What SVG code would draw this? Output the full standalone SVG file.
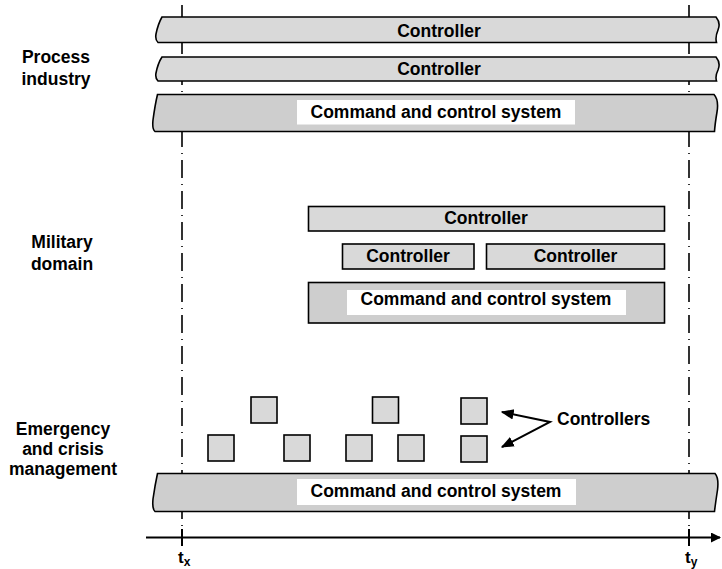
<svg xmlns="http://www.w3.org/2000/svg" width="722" height="569" viewBox="0 0 722 569">
<defs>
<style>
text{font-family:"Liberation Sans",Arial,sans-serif;font-weight:bold;fill:#000}
.lbl{font-size:17.5px;text-anchor:middle}
.bt{font-size:17.5px;text-anchor:middle}
.ctl{fill:#d9d9d9;stroke:#000;stroke-width:1.6}
.cc{fill:#cecece;stroke:#000;stroke-width:1.6}
.wb{fill:#fff;stroke:none}
.tl{stroke:#000;stroke-width:1.6;stroke-dasharray:18 6 1 6;fill:none}
.conn{stroke:#000;stroke-width:2;fill:none}
</style>
<marker id="ah" viewBox="0 0 10 10" refX="9" refY="5" markerWidth="6.5" markerHeight="6.5" orient="auto-start-reverse" markerUnits="strokeWidth">
<path d="M0,1 L10,5 L0,9 z" fill="#000"/>
</marker>
<marker id="ah2" viewBox="0 0 10 10" refX="9" refY="5" markerWidth="5" markerHeight="5" orient="auto" markerUnits="strokeWidth">
<path d="M0,0 L10,5 L0,10 z" fill="#000"/>
</marker>
</defs>
<rect width="722" height="569" fill="#fff"/>

<g id="timelines">
<line class="tl" x1="182" y1="5" x2="182" y2="530"/>
<line class="tl" x1="689" y1="5" x2="689" y2="530"/>
</g>

<g id="label-process">
<text class="lbl" x="56" y="63">Process</text>
<text class="lbl" x="56" y="84.5">industry</text>
</g>
<g id="label-military">
<text class="lbl" x="62" y="248">Military</text>
<text class="lbl" x="62" y="269.5">domain</text>
</g>
<g id="label-emergency">
<text class="lbl" x="63" y="435">Emergency</text>
<text class="lbl" x="63" y="455">and crisis</text>
<text class="lbl" x="63" y="475">management</text>
</g>

<g id="process-controller-1">
<path class="ctl" d="M162,17 L716,17 Q721,23 718,30 Q715,37 716.5,42.5 L158,42.5 Q155,40 156,34 Q158,24 162,17 Z"/>
<text class="bt" x="439" y="36.5">Controller</text>
</g>
<g id="process-controller-2">
<path class="ctl" d="M162,57 L716,57 Q721,63 718,70 Q715,76 716.5,81 L158,81 Q155,78 156,73 Q158,63 162,57 Z"/>
<text class="bt" x="439" y="74.5">Controller</text>
</g>
<g id="process-c2">
<path class="cc" d="M157.5,94.5 L714,94.5 Q719,100 717,112 Q715,124 714.5,131.5 L155,131.5 Q152,129 153,120 Q155,105 157.5,94.5 Z"/>
<rect class="wb" x="297" y="100" width="278" height="24.5"/>
<text class="bt" x="436" y="118">Command and control system</text>
</g>

<g id="military-controller-top">
<rect class="ctl" x="308.5" y="206.5" width="356" height="24.5"/>
<text class="bt" x="486" y="224">Controller</text>
</g>
<g id="military-controller-left">
<rect class="ctl" x="342.5" y="244" width="131.5" height="25"/>
<text class="bt" x="408" y="262">Controller</text>
</g>
<g id="military-controller-right">
<rect class="ctl" x="486.5" y="244" width="178" height="25"/>
<text class="bt" x="575.5" y="262">Controller</text>
</g>
<g id="military-c2">
<rect class="cc" x="308.5" y="282.5" width="356" height="40.5"/>
<rect class="wb" x="347" y="290" width="279" height="25"/>
<text class="bt" x="486" y="305">Command and control system</text>
</g>

<g id="emergency-controllers">
<rect class="ctl" x="251" y="397" width="26" height="26"/>
<rect class="ctl" x="372.5" y="397" width="26" height="26"/>
<rect class="ctl" x="461" y="398" width="26" height="26"/>
<rect class="ctl" x="208" y="435" width="26" height="26"/>
<rect class="ctl" x="284" y="435" width="26" height="26"/>
<rect class="ctl" x="346" y="435" width="26" height="26"/>
<rect class="ctl" x="398" y="435" width="26" height="26"/>
<rect class="ctl" x="461" y="436" width="26" height="26"/>
</g>
<g id="controllers-label">
<text x="557" y="425" style="font-size:17.5px">Controllers</text>
</g>

<g id="emergency-c2">
<path class="cc" d="M157.5,473.5 L715,473.5 Q719,478 717.5,490 Q715.5,503 714.5,511.5 L155,511.5 Q152,509 153,499 Q155,485 157.5,473.5 Z"/>
<rect class="wb" x="297" y="479" width="279" height="26"/>
<text class="bt" x="436" y="497">Command and control system</text>
</g>

<g id="connectors">
<polyline class="conn" points="502,412 550,422 502,447" marker-start="url(#ah)" marker-end="url(#ah)"/>
<line x1="146" y1="537.5" x2="720" y2="537.5" stroke="#000" stroke-width="2" marker-end="url(#ah2)"/>
<line x1="182" y1="529" x2="182" y2="546" stroke="#000" stroke-width="2"/>
<line x1="689" y1="529" x2="689" y2="546" stroke="#000" stroke-width="2"/>
</g>

<g id="axis-labels">
<text x="178" y="563" style="font-size:17px">t<tspan dy="3" style="font-size:12px">x</tspan></text>
<text x="685" y="563" style="font-size:17px">t<tspan dy="3" style="font-size:12px">y</tspan></text>
</g>
</svg>
